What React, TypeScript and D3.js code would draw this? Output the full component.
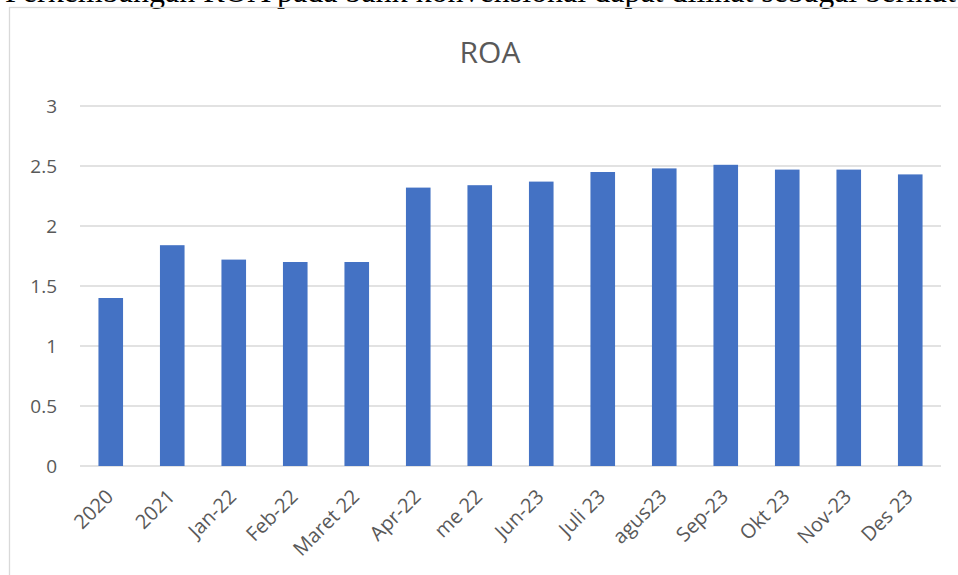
import React, { useEffect, useRef } from 'react';
import * as d3 from 'd3';

const categories = [
  '2020', '2021', 'Jan-22', 'Feb-22', 'Maret 22', 'Apr-22', 'me 22',
  'Jun-23', 'Juli 23', 'agus23', 'Sep-23', 'Okt 23', 'Nov-23', 'Des 23'
];
const roaValues = [1.4, 1.84, 1.72, 1.7, 1.7, 2.32, 2.34, 2.37, 2.45, 2.48, 2.51, 2.47, 2.47, 2.43];
const yTicks = [0, 0.5, 1, 1.5, 2, 2.5, 3];
const chartTitle = 'ROA';
const captionText = 'Perkembangan ROA pada bank konvensional dapat dilihat sebagai berikut:';

export default function App() {
  const svgRef = useRef<SVGSVGElement>(null);

  useEffect(() => {
    if (!svgRef.current) return;
    const width = 958;
    const height = 575;

    d3.select(svgRef.current).selectAll('*').remove();
    const svg = d3.select(svgRef.current)
      .attr('width', width)
      .attr('height', height)
      .attr('viewBox', `0 0 ${width} ${height}`);

    svg.append('rect')
      .attr('width', width)
      .attr('height', height)
      .attr('fill', '#fff');

    // caption above the chart, cropped by the top edge like in the source page
    svg.append('text')
      .attr('x', 5)
      .attr('y', 1.5)
      .style('font-family', '"Liberation Serif", "Times New Roman", serif')
      .style('font-size', '32px')
      .attr('fill', '#000')
      .text(captionText);

    // chart frame
    svg.append('rect')
      .attr('x', 9.5)
      .attr('y', 7.5)
      .attr('width', 1000)
      .attr('height', 600)
      .attr('fill', 'none')
      .attr('stroke', '#d9d9d9')
      .attr('stroke-width', 1.3);

    const margin = { top: 106, left: 80, right: 17, bottom: 109 };
    const innerWidth = width - margin.left - margin.right;
    const innerHeight = height - margin.top - margin.bottom;

    const g = svg.append('g')
      .attr('transform', `translate(${margin.left},${margin.top})`);

    const x = d3.scaleBand()
      .domain(categories)
      .range([0, innerWidth])
      .paddingInner(0.6)
      .paddingOuter(0.3);

    const y = d3.scaleLinear()
      .domain([0, 3])
      .range([innerHeight, 0]);

    // gridlines
    g.selectAll('.grid')
      .data(yTicks)
      .enter().append('line')
      .attr('x1', 0)
      .attr('x2', innerWidth)
      .attr('y1', d => y(d))
      .attr('y2', d => y(d))
      .attr('stroke', '#d9d9d9')
      .attr('stroke-width', 1.3);

    // y labels
    g.selectAll('.ylab')
      .data(yTicks)
      .enter().append('text')
      .attr('x', -23)
      .attr('y', d => y(d))
      .attr('dy', '0.35em')
      .attr('text-anchor', 'end')
      .attr('fill', '#595959')
      .style('font-family', '"Open Sans", sans-serif')
      .style('font-size', '19px')
      .text(d => String(d));

    // bars
    g.selectAll('.bar')
      .data(roaValues)
      .enter().append('rect')
      .attr('x', (d, i) => x(categories[i]) || 0)
      .attr('y', d => y(d))
      .attr('width', x.bandwidth())
      .attr('height', d => innerHeight - y(d))
      .attr('fill', '#4472c4');

    // x labels, rotated
    g.selectAll('.xlab')
      .data(categories)
      .enter().append('text')
      .attr('transform', d => `translate(${(x(d) || 0) + x.bandwidth() / 2 - 1},${innerHeight + 27}) rotate(-45)`)
      .attr('text-anchor', 'end')
      .attr('dy', '0.35em')
      .attr('fill', '#595959')
      .style('font-family', '"Open Sans", sans-serif')
      .style('font-size', '20px')
      .text(d => d);

    // title
    svg.append('text')
      .attr('x', 490)
      .attr('y', 63)
      .attr('text-anchor', 'middle')
      .attr('fill', '#595959')
      .style('font-family', '"Open Sans", sans-serif')
      .style('font-size', '30px')
      .text(chartTitle);
  }, []);

  return (
    <div style={{ position: 'fixed', left: 0, top: 0 }}>
      <svg ref={svgRef} style={{ display: 'block' }}></svg>
    </div>
  );
}
